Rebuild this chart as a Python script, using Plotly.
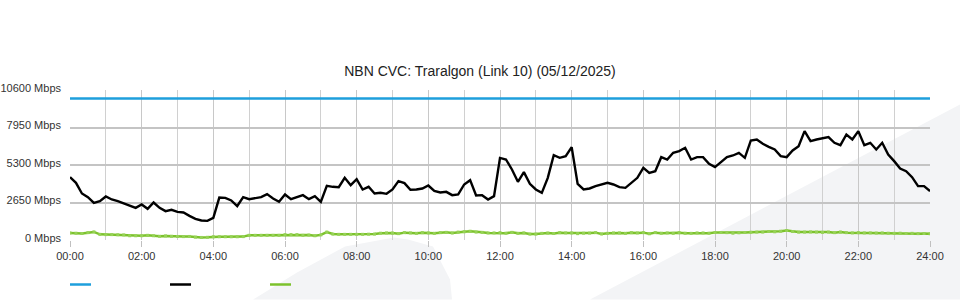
import plotly.graph_objects as go

title = "NBN CVC: Traralgon (Link 10) (05/12/2025)"

# time in hours, 10-minute samples
hours = [k / 6 for k in range(145)]

capacity = [10000] * 145

traffic_in = [
    4441, 4040, 3287, 3027, 2627, 2745,
    3075, 2863, 2745, 2603, 2462, 2273,
    2509, 2203, 2650, 2273, 2038, 2132,
    1991, 1944, 1708, 1496, 1378, 1355,
    1567, 3000, 2980, 2792, 2400, 3027,
    2886, 2933, 3027, 3240, 2933, 2698,
    3216, 2886, 3051, 3169, 2886, 3098,
    2698, 3829, 3758, 3734, 4394, 3876,
    4300, 3570, 3758, 3287, 3334, 3263,
    3570, 4158, 4017, 3546, 3570, 3640,
    3852, 3475, 3357, 3404, 3169, 3216,
    3923, 4229, 3145, 3169, 2863, 3098,
    5800, 5689, 4983, 4111, 4794, 3970,
    3570, 3334, 4394, 5996, 5807, 5925,
    6562, 3970, 3570, 3640, 3805, 3923,
    4040, 3923, 3734, 3687, 4040, 4394,
    5100, 4747, 4865, 5854, 5689, 6161,
    6279, 6515, 5689, 5854, 5854, 5383,
    5147, 5525, 5854, 5972, 6161, 5807,
    7033, 7103, 6797, 6585, 6397, 5925,
    5854, 6327, 6632, 7693, 6986, 7103,
    7174, 7268, 6868, 6703, 7457, 7103,
    7693, 6703, 6868, 6397, 6868, 6043,
    5572, 5052, 4865, 4441, 3805, 3805,
    3452,
]

traffic_out = [
    500, 480, 460, 520, 570, 400,
    380, 380, 370, 360, 300, 300,
    300, 330, 300, 260, 290, 260,
    250, 240, 250, 200, 180, 190,
    230, 230, 230, 230, 230, 240,
    330, 330, 330, 330, 330, 330,
    380, 380, 380, 330, 350, 300,
    360, 560, 420, 400, 400, 400,
    400, 400, 410, 420, 480, 500,
    490, 450, 520, 500, 470, 520,
    500, 470, 520, 540, 500, 560,
    580, 620, 560, 540, 500, 500,
    520, 480, 540, 470, 500, 420,
    420, 470, 490, 460, 520, 500,
    500, 450, 480, 490, 520, 430,
    470, 500, 500, 470, 520, 500,
    520, 440, 520, 480, 500, 470,
    520, 480, 470, 500, 500, 480,
    530, 530, 520, 480, 510, 530,
    550, 560, 560, 600, 580, 620,
    670, 600, 560, 560, 570, 560,
    540, 560, 520, 560, 520, 500,
    520, 500, 500, 490, 500, 480,
    470, 480, 460, 470, 450, 460, 440,
]

x_tickvals = list(range(0, 25, 2))
x_ticktext = ["00:00", "02:00", "04:00", "06:00", "08:00", "10:00", "12:00",
              "14:00", "16:00", "18:00", "20:00", "22:00", "24:00"]
y_tickvals = [0, 2650, 5300, 7950, 10600]
y_ticktext = ["0 Mbps", "2650 Mbps", "5300 Mbps", "7950 Mbps", "10600 Mbps"]

series_colors = ["#1e9fdc", "#000000", "#7cc22c"]

fig = go.Figure()
fig.add_trace(go.Scatter(x=hours, y=capacity, mode="lines",
                         line=dict(color=series_colors[0], width=2.5),
                         showlegend=False, hoverinfo="skip"))
fig.add_trace(go.Scatter(x=hours, y=traffic_in, mode="lines",
                         line=dict(color=series_colors[1], width=2.4),
                         showlegend=False))
fig.add_trace(go.Scatter(x=hours, y=traffic_out, mode="lines+markers",
                         line=dict(color=series_colors[2], width=2.5),
                         marker=dict(color="#96d256", size=3, symbol="square"),
                         showlegend=False))

# pixel helpers for paper-coordinate decoration
L, R, T, B = 70, 930, 90.5, 240.5
def px(xp):
    return (xp - L) / (R - L)
def py(yp):
    return (B - yp) / (B - T)

def path(pts):
    return "M " + " L ".join(f"{px(a):.4f},{py(b):.4f}" for a, b in pts) + " Z"

shapes = []
# faint watermark shapes
hill = [(253, 300), (297, 273), (345, 247), (394, 238), (408, 240),
        (433, 247), (450, 280), (452, 300)]
band = [(590, 300), (960, 105), (960, 300)]
for pts in (hill, band):
    shapes.append(dict(type="path", xref="paper", yref="paper", path=path(pts),
                       fillcolor="#f3f4f6", line=dict(width=0), layer="below"))
# legend keys (no text)
for i, c in enumerate(series_colors):
    x0 = 70 + 100 * i
    shapes.append(dict(type="line", xref="paper", yref="paper",
                       x0=px(x0), x1=px(x0 + 21), y0=py(285), y1=py(285),
                       line=dict(color=c, width=2.5)))

fig.update_layout(
    width=960, height=300,
    margin=dict(l=70, r=30, t=90, b=59.5, pad=0, autoexpand=False),
    paper_bgcolor="white", plot_bgcolor="rgba(0,0,0,0)",
    font=dict(family="Liberation Sans, Arial, sans-serif", size=11, color="#333"),
    title=dict(text=title, x=0.5, xanchor="center", y=1 - 71 / 300, yanchor="middle",
               font=dict(size=14, color="#222")),
    shapes=shapes,
    xaxis=dict(range=[0, 24], tickvals=x_tickvals, ticktext=x_ticktext,
               showgrid=True, gridcolor="#c8c8c8", gridwidth=1,
               minor=dict(dtick=1, showgrid=True, gridcolor="#d0d0d0", gridwidth=1),
               ticks="outside", ticklen=6, tickcolor="#c0c0c0",
               zeroline=False, showline=False, fixedrange=True, automargin=False),
    yaxis=dict(range=[0, 10600], tickvals=y_tickvals, ticktext=y_ticktext,
               showgrid=True, gridcolor="#c4c4c4", gridwidth=2,
               ticks="", ticklabelstandoff=8, ticklabelshift=-2,
               zeroline=False, showline=False, fixedrange=True, automargin=False),
)

fig.write_html("out.html")
